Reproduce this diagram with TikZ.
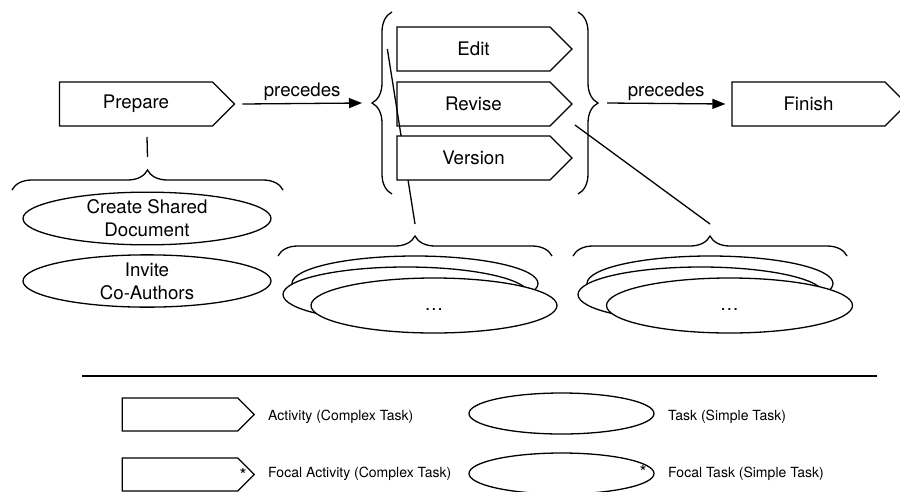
\documentclass[tikz,border=0pt]{standalone}
\usepackage{fontspec}
\setmainfont{TeX Gyre Heros}
\usetikzlibrary{shapes.symbols,shapes.geometric,decorations.pathreplacing,arrows.meta}

\tikzset{
  activity/.style={signal, signal to=east, signal pointer angle=90, draw, fill=white,
    line width=1.3pt, minimum width=175pt, minimum height=44pt, inner sep=0pt,
    font=\fontsize{18.7}{23}\selectfont},
  smallactivity/.style={activity, minimum width=132pt, minimum height=33pt},
  task/.style={ellipse, draw, fill=white, line width=1.3pt, minimum width=248pt,
    minimum height=51pt, inner sep=0pt, align=center, font=\fontsize{18.7}{23}\selectfont},
  stacktask/.style={task, minimum width=246pt, minimum height=55pt},
  legendtask/.style={task, minimum width=185pt, minimum height=41pt},
  bracegroup/.style={decorate, decoration={brace, amplitude=20pt}, line width=1.3pt},
  link/.style={line width=1.3pt},
  precedes/.style={line width=1.3pt, -{Triangle[length=13pt,width=10pt]}},
  relname/.style={above=1pt, inner sep=1pt, font=\fontsize{18.7}{23}\selectfont},
  legendtext/.style={anchor=west, inner sep=0pt, font=\fontsize{14}{16}\selectfont},
  focalmark/.style={inner sep=0pt, font=\fontsize{18}{20}\selectfont},
}

\begin{document}
\begin{tikzpicture}[x=1pt, y=-1pt]
\useasboundingbox (0,0) rectangle (900,491);

% activites principales
\node[activity] (prepare) at (136,104) {Prepare};
\node[activity] (edit) at (473.5,49) {Edit};
\node[activity] (revise) at (473.5,104) {Revise};
\node[activity] (finish) at (808.5,104) {Finish};

% accolades
\draw[bracegroup] (392,194) -- (392,12);
\draw[bracegroup] (578,12) -- (578,194);
\coordinate (grouplefttip) at (372,103);
\coordinate (grouprighttip) at (598,103);
\draw[bracegroup] (12,190) -- (283,190);
\draw[bracegroup] (278,256) -- (552,256);
\draw[bracegroup] (573,256) -- (847,256);
\coordinate (preparetip) at (147.5,170);
\coordinate (edittip) at (415,236);
\coordinate (revisetip) at (710,236);

% liens vers les taches
\coordinate (editlink) at ([xshift=-9pt]edit.west);
\coordinate (reviselink) at ([xshift=2pt,yshift=-21pt]revise.east);
\draw[link] (147,137) -- ([yshift=13pt]preparetip);
\draw[link] (editlink) -- ([yshift=12pt]edittip);
\draw[link] (reviselink) -- ([yshift=12pt]revisetip);

\node[activity] (version) at (473.5,158) {Version};

% relations
\draw[precedes] ([xshift=7pt]prepare.east) -- ([xshift=-10pt]grouplefttip)
  node[midway, relname] {precedes};
\draw[precedes] ([xshift=9pt]grouprighttip) -- ([xshift=-6pt]finish.west)
  node[midway, relname] {precedes};

% taches
\node[task] (create) at (147,218.5) {Create Shared\\Document};
\node[task] (invite) at (147,281) {Invite\\Co-Authors};

\node[stacktask] (editback) at (415,283.5) {};
\node[stacktask] (editmid) at (406,294.5) {};
\node[stacktask] (editfront) at (434,305.5) {\strut\dots};
\node[stacktask] (reviseback) at (710,283.5) {};
\node[stacktask] (revisemid) at (701,294.5) {};
\node[stacktask] (revisefront) at (729.5,305.5) {\strut\dots};

% legende
\coordinate (sepleft) at (82,376);
\coordinate (sepright) at (877,376);
\draw[line width=1.8pt] (sepleft) -- (sepright);

\node[smallactivity] (legact) at (180,414.5) {};
\node[legendtext] (legacttext) at (268,417) {Activity (Complex Task)};
\node[legendtask] (legtask) at (561.5,413.5) {};
\node[legendtext] (legtasktext) at (668,417) {Task (Simple Task)};

\node[smallactivity] (legfocact) at (180,474.5) {};
\node[focalmark] (legfocactstar) at (243,475) {*};
\node[legendtext] (legfocacttext) at (268,474) {Focal Activity (Complex Task)};
\node[legendtask] (legfoctask) at (561.5,473.5) {};
\node[focalmark] (legfoctaskstar) at (643,472) {*};
\node[legendtext] (legfoctasktext) at (668,474) {Focal Task (Simple Task)};
\end{tikzpicture}
\end{document}
